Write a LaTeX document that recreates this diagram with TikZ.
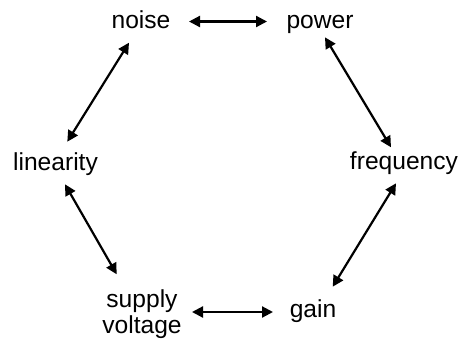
\documentclass[tikz,border=0pt]{standalone}
\usepackage{fontspec}
\setmainfont{Liberation Sans}
\usetikzlibrary{arrows.meta,calc}
\begin{document}
\begin{tikzpicture}[x=1pt,y=-1pt,
  lbl/.style={font=\fontsize{24.6}{26}\selectfont, inner sep=0pt, anchor=base},
  dbl/.style={{Triangle[length=11pt,width=11pt]}-{Triangle[length=11pt,width=11pt]}, line width=2.2pt}]
\useasboundingbox (0,0) rectangle (462,343);
\node[lbl] (noise) at (141,28) {noise};
\node[lbl] (power) at (320,28) {power};
\node[lbl] (linearity) at (55.5,170) {linearity};
\node[lbl] (frequency) at (404,169.5) {frequency};
\node[lbl] (gain) at (313,317) {gain};
\node[lbl, anchor=center, align=center] (supply) at (142,313.7) {supply\\voltage};
\draw[dbl] ($(noise.base)+(48,-6.5)$) -- ($(power.base)+(-53,-6.5)$);
\draw[dbl] ($(power.base)+(5,9.3)$) -- ($(frequency.base)+(-13,-22.2)$);
\draw[dbl] ($(frequency.base)+(-8,13.8)$) -- ($(gain.base)+(19.7,-30.3)$);
\draw[dbl] ($(gain.base)+(-40,-5)$) -- ($(supply.center)+(50,-1.7)$);
\draw[dbl] ($(supply.center)+(-25.3,-39.4)$) -- ($(linearity.base)+(9.5,14.3)$);
\draw[dbl] ($(linearity.base)+(11.8,-28.3)$) -- ($(noise.base)+(-12,14.7)$);
\end{tikzpicture}
\end{document}
